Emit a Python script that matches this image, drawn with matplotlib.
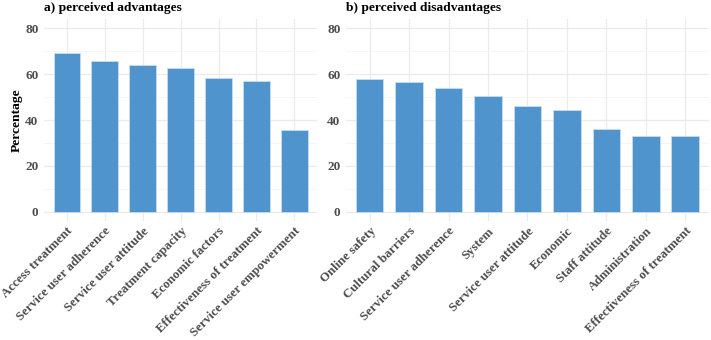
import matplotlib
matplotlib.use("Agg")
import matplotlib.pyplot as plt
from matplotlib.ticker import MultipleLocator

# data
adv_labels = ["Access treatment", "Service user adherence", "Service user attitude",
              "Treatment capacity", "Economic factors", "Effectiveness of treatment",
              "Service user empowerment"]
adv_values = [69.2, 65.7, 64.0, 62.7, 58.3, 57.0, 35.6]

dis_labels = ["Online safety", "Cultural barriers", "Service user adherence", "System",
              "Service user attitude", "Economic", "Staff attitude", "Administration",
              "Effectiveness of treatment"]
dis_values = [57.9, 56.4, 53.8, 50.6, 46.2, 44.5, 36.1, 33.2, 32.9]

bar_color = "#4F94CD"
plt.rcParams["font.family"] = ["Liberation Serif", "DejaVu Serif"]
plt.rcParams["font.weight"] = "bold"

fig = plt.figure(figsize=(7.11, 3.40), dpi=100)
ax1 = fig.add_axes([0.062, 0.35, 0.384, 0.594])
ax2 = fig.add_axes([0.4866, 0.35, 0.5104, 0.594])

def draw_panel(ax, labels, values, title):
    x = range(len(labels))
    ax.set_axisbelow(True)
    ax.bar(x, values, width=0.7, color=bar_color, edgecolor="#c9ddef", linewidth=0.6, zorder=2)
    ax.set_xlim(-0.6, len(labels) - 0.4)
    ax.set_ylim(-4, 84)
    ax.yaxis.set_major_locator(MultipleLocator(20))
    ax.yaxis.set_minor_locator(MultipleLocator(10))
    ax.set_xticks(list(x))
    ax.set_xticklabels(labels, rotation=45, ha="right", va="top", rotation_mode="anchor",
                       fontsize=9.3, fontweight="bold", color="#4D4D4D")
    for lab in ax.get_yticklabels():
        lab.set_fontsize(9.5)
        lab.set_fontweight("bold")
        lab.set_color("#4D4D4D")
    ax.grid(which="major", color="#EBEBEB", linewidth=0.9)
    ax.grid(which="minor", axis="y", color="#F4F4F4", linewidth=0.6)
    ax.tick_params(axis="both", which="both", length=0)
    ax.tick_params(axis="x", pad=3)
    ax.tick_params(axis="y", pad=4)
    for s in ax.spines.values():
        s.set_visible(False)
    ax.set_title(title, loc="left", fontsize=9.7, fontweight="bold", pad=6)

draw_panel(ax1, adv_labels, adv_values, "a) perceived advantages")
draw_panel(ax2, dis_labels, dis_values, "b) perceived disadvantages")
ax1.set_ylabel("Percentage", fontsize=9.7, fontweight="bold", labelpad=2)

fig.savefig("out.png", dpi=100)
